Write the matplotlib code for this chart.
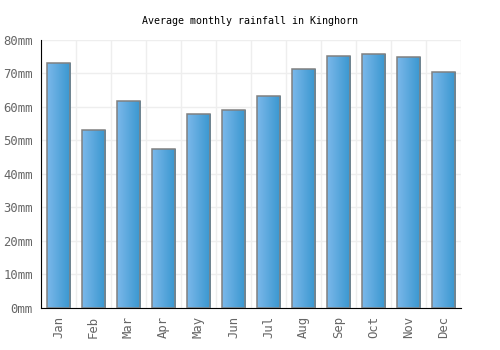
import numpy as np
import matplotlib
matplotlib.use("Agg")
import matplotlib.pyplot as plt
from matplotlib.colors import LinearSegmentedColormap

months = ["Jan", "Feb", "Mar", "Apr", "May", "Jun",
          "Jul", "Aug", "Sep", "Oct", "Nov", "Dec"]
rainfall = [73.0, 53.1, 61.7, 47.4, 57.8, 59.0,
            63.1, 71.4, 75.1, 75.7, 74.8, 70.3]
yticks = [0, 10, 20, 30, 40, 50, 60, 70, 80]
ytick_labels = ["%dmm" % v for v in yticks]

plt.rcParams['font.family'] = ['DejaVu Sans Mono']

fig = plt.figure(figsize=(5, 3.5), dpi=100)
ax = fig.add_axes([0.082, 0.121, 0.84, 0.765])

x = np.arange(len(months))
bars = ax.bar(x, rainfall, width=0.68, facecolor='none',
              edgecolor='#808080', linewidth=1.1, zorder=3)

# horizontal gradient fill, light on the left, darker on the right
cmap = LinearSegmentedColormap.from_list("rain", ["#7bb8ea", "#3896cf"])
grad = np.linspace(0, 1, 64).reshape(1, -1)
for b in bars:
    x0, y0 = b.get_x(), b.get_y()
    w, h = b.get_width(), b.get_height()
    im = ax.imshow(grad, cmap=cmap, aspect='auto',
                   extent=(x0, x0 + w, y0, y0 + h), zorder=2)
    im.set_clip_path(b)

ax.set_xlim(-0.5, len(months) - 0.5)
ax.set_ylim(0, 80)
ax.set_yticks(yticks)
ax.set_yticklabels(ytick_labels)
ax.set_xticks(x)
ax.set_xticklabels(months, rotation=90)

ax.set_xticks(np.arange(-0.5, len(months) + 0.5, 1), minor=True)
ax.grid(True, which='minor', axis='x', color='#eeeeee', linewidth=1, zorder=0)
ax.grid(True, which='major', axis='y', color='#eeeeee', linewidth=1, zorder=0)
ax.tick_params(which='both', length=0)
ax.tick_params(axis='both', colors='#666666', labelsize=8.8, pad=6)

for s in ['top', 'right']:
    ax.spines[s].set_visible(False)
ax.spines['left'].set_color('black')
ax.spines['bottom'].set_color('black')
ax.set_axisbelow(True)

fig.suptitle("Average monthly rainfall in Kinghorn", y=0.955,
             fontsize=7.2, color='black')

fig.savefig("out.png", dpi=100)
